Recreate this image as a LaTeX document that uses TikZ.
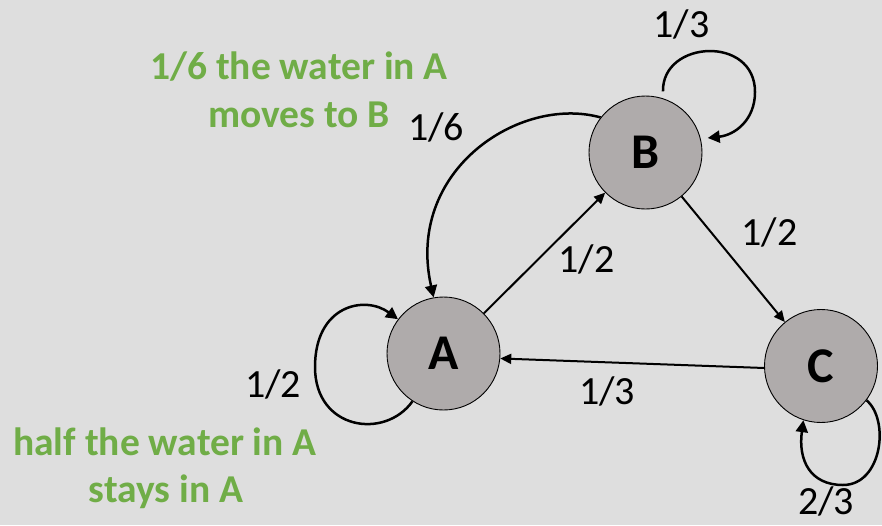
\documentclass[tikz,border=0pt]{standalone}
\usepackage{fontspec}
\setmainfont{Carlito}
\usetikzlibrary{arrows.meta}
\definecolor{bg}{HTML}{DEDEDE}
\definecolor{nodefill}{HTML}{AFABAB}
\definecolor{note}{HTML}{70AD47}
\tikzset{
  state/.style={circle, draw=black, line width=0.9pt, fill=nodefill, minimum size=113pt, inner sep=0pt, font=\fontsize{50}{50}\selectfont\bfseries},
  edge/.style={line width=2pt, -{Triangle[length=11pt,width=10pt]}},
  loopedge/.style={line width=2.5pt, -{Triangle[length=12pt,width=12pt]}},
  prob/.style={anchor=base, inner sep=0pt, font=\fontsize{40}{40}\selectfont},
  notetext/.style={anchor=base, inner sep=0pt, text=note, font=\fontsize{39.5}{40}\selectfont\bfseries},
}
\begin{document}
\begin{tikzpicture}[x=1pt,y=-1pt]
\fill[bg] (0,0) rectangle (882,525);
\useasboundingbox (0,0) rectangle (882,525);

\node[state] (A) at (443.5,353.5) {A};
\node[state] (B) at (645.5,152.5) {B};
\node[state] (C) at (821,366) {C};

% straight edges
\draw[edge] (A) -- (B);
\draw[edge] (B) -- (C);
\draw[edge] (C.182) -- (A.-5);

% B -> A curved
\draw[loopedge] (B.142) .. controls (520,95) and (405,170) .. (A.100);

% A self loop
\draw[loopedge] (A.-123) .. controls (385,440) and (315,430) .. (315,367)
  .. controls (315,305) and (365,295) .. (A.143);

% B self loop
\draw[loopedge, shorten <=7pt, shorten >=7pt] (B.72) .. controls (662,40) and (755,35) .. (755,92)
  .. controls (755,120) and (735,135) .. (B.14);

% C self loop
\draw[loopedge] (C.-37) .. controls (890,420) and (882,485) .. (843,485)
  .. controls (810,485) and (798,460) .. (C.-108);

% probabilities
\node[prob] (pBB) at (681.5,37) {1/3};
\node[prob] (pBA) at (436,140) {1/6};
\node[prob] (pAB) at (586.5,272.5) {1/2};
\node[prob] (pBC) at (769.5,245) {1/2};
\node[prob] (pCA) at (607,404) {1/3};
\node[prob] (pAA) at (273,397) {1/2};
\node[prob] (pCC) at (826,514) {2/3};

% notes
\node[notetext] (n1a) at (299,79.5) {1/6 the water in A};
\node[notetext] (n1b) at (299,127) {moves to B};
\node[notetext] (n2a) at (165,455) {half the water in A};
\node[notetext] (n2b) at (166,502) {stays in A};
\end{tikzpicture}
\end{document}
